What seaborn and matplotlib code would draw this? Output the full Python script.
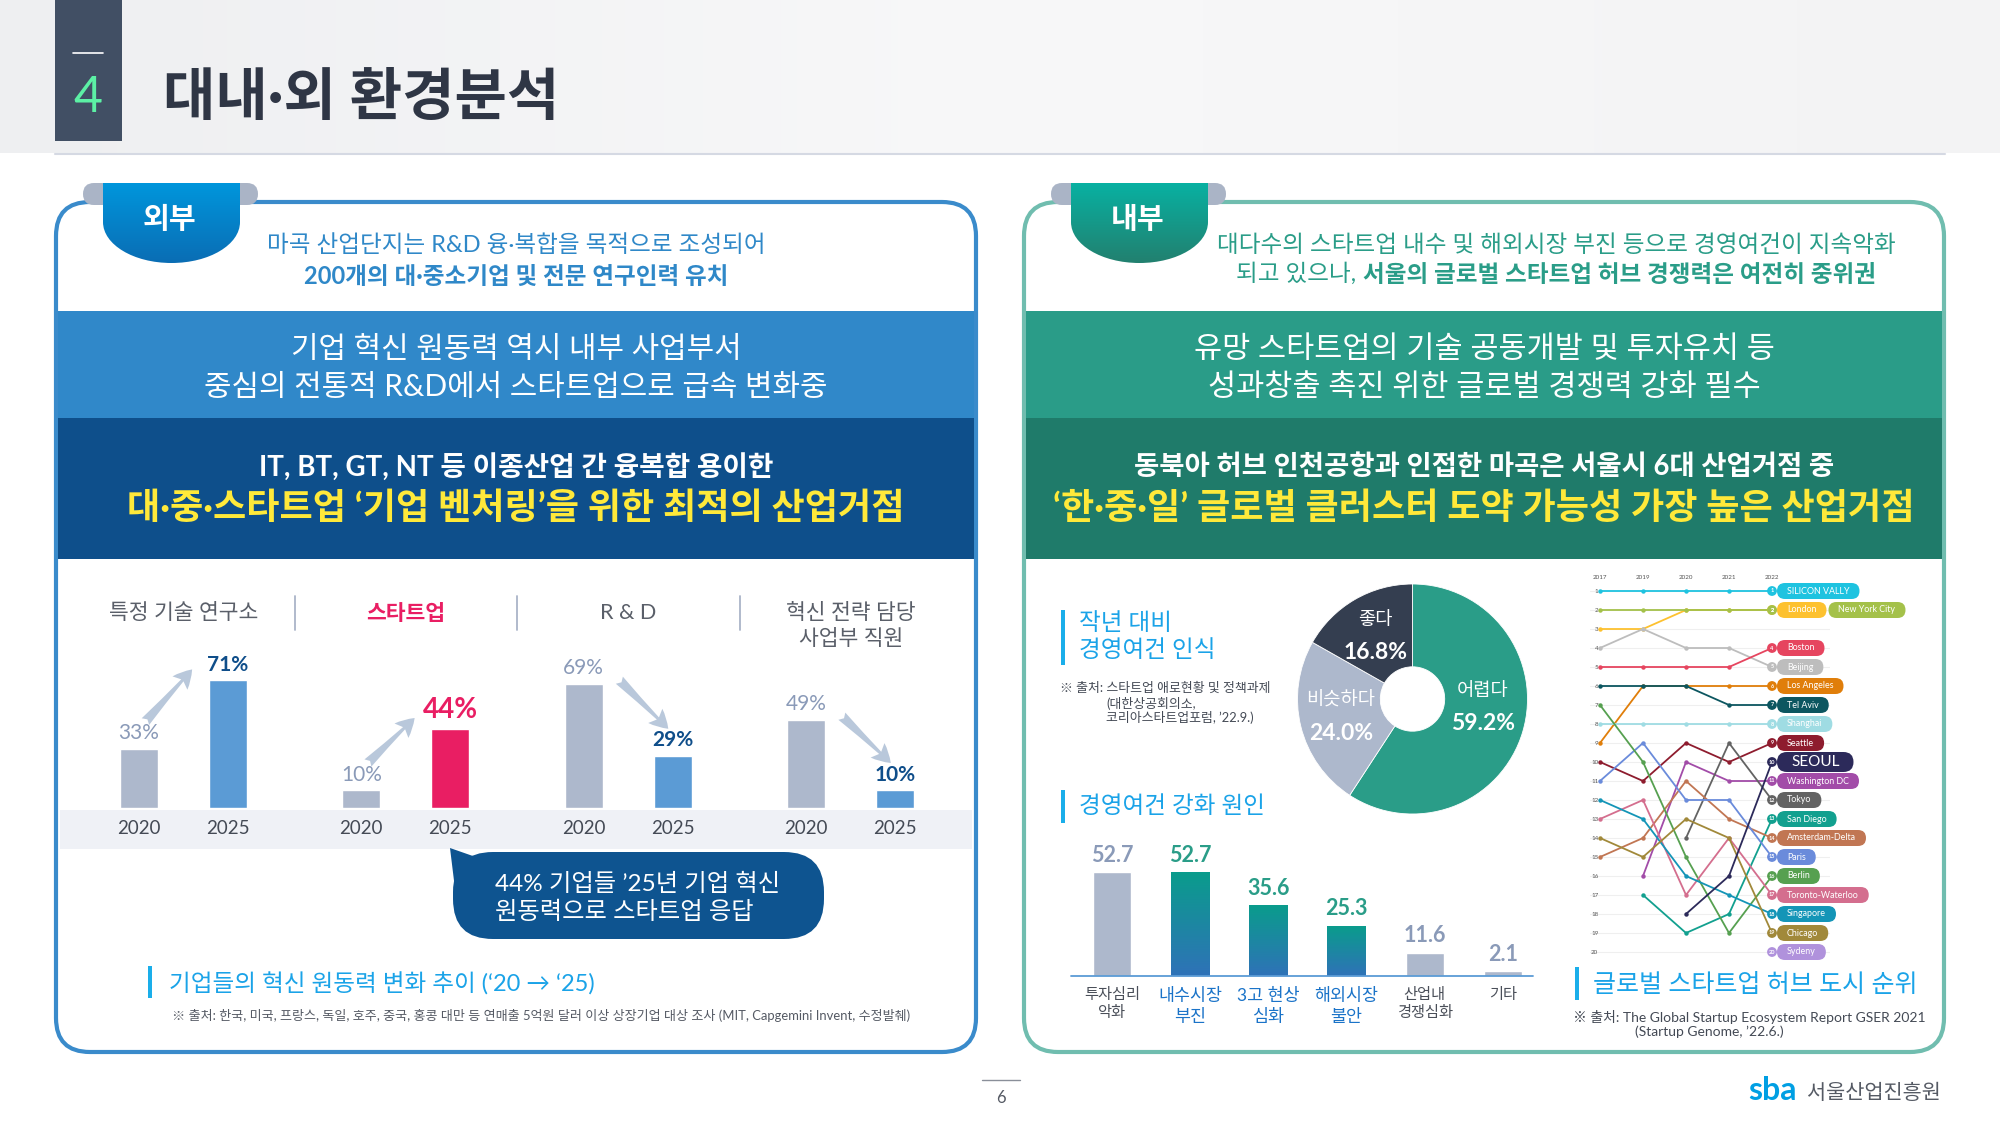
import numpy as np
import pandas as pd
import seaborn as sns
import matplotlib.pyplot as plt
import matplotlib.colors as mcolors
from matplotlib.patches import FancyBboxPatch, Rectangle, Polygon, PathPatch
from matplotlib.path import Path

sns.set_theme(style="white")
plt.rcParams["font.family"] = ["Lato", "Noto Sans CJK KR", "DejaVu Sans"]
plt.rcParams["axes.unicode_minus"] = False

W, H = 2000, 1125

# ---------------- data ----------------
innov_groups = ["특정 기술 연구소", "스타트업", "R & D", "혁신 전략 담당\n사업부 직원"]
innov_2020 = [33, 10, 69, 49]
innov_2025 = [71, 44, 29, 10]

mood_labels = ["어렵다", "비슷하다", "좋다"]
mood_values = [59.2, 24.0, 16.8]

cause_labels = ["투자심리\n악화", "내수시장\n부진", "3고 현상\n심화", "해외시장\n불안", "산업내\n경쟁심화", "기타"]
cause_values = [52.7, 52.7, 35.6, 25.3, 11.6, 2.1]

rank_years = ["2017", "2019", "2020", "2021", "2022"]
rank_cities = ["SILICON VALLY", "London", "New York City", "Beijing", "Boston",
               "Los Angeles", "Tel Aviv", "Shanghai", "Seattle", "Washington DC",
               "Tokyo", "San Diego", "Amsterdam-Delta", "Paris", "Berlin",
               "Toronto-Waterloo", "Singapore", "Chicago", "Sydeny", "SEOUL"]
rank_values = [
    [1, 1, 1, 1, 1],
    [3, 3, 2, 2, 2],
    [2, 2, 2, 2, 2],
    [4, 3, 4, 4, 5],
    [5, 5, 5, 5, 4],
    [9, 6, 6, 6, 6],
    [6, 6, 6, 7, 7],
    [8, 8, 8, 8, 8],
    [10, 11, 9, 10, 9],
    [None, 16, 10, 11, 11],
    [None, None, 14, 9, 12],
    [None, 17, 19, 18, 13],
    [15, 14, 11, 13, 14],
    [11, 9, 12, 12, 15],
    [7, 10, 15, 19, 16],
    [13, 12, 17, 14, 17],
    [12, 13, 16, 17, 18],
    [14, 15, 13, 14, 19],
    [None, None, None, None, 20],
    [None, None, 18, 16, 10],
]
rank_colors = ["#1ec3e0", "#fdc12f", "#a4c14a", "#bdbdbd", "#e6455f",
               "#e07e0a", "#0c5660", "#9fdce3", "#8e1c2e", "#a24ca8",
               "#636363", "#12a08f", "#c17653", "#6a8bdb", "#56a050",
               "#d46e8e", "#1495b7", "#a1893a", "#b092dc", "#2c2a5a"]

# ---------------- helpers ----------------
fig = plt.figure(figsize=(20, 11.25), dpi=100)
fig.patch.set_facecolor("white")
bg = fig.add_axes([0, 0, 1, 1])
bg.set_xlim(0, W)
bg.set_ylim(H, 0)
bg.axis("off")


def px_axes(x0, y0, x1, y1):
    a = fig.add_axes([x0 / W, 1 - y1 / H, (x1 - x0) / W, (y1 - y0) / H])
    a.set_facecolor("none")
    return a


def gradient_fill(ax, patch, top, bottom, extent, z):
    patch.set_facecolor("none")
    patch.set_edgecolor("none")
    ax.add_patch(patch)
    cmap = mcolors.LinearSegmentedColormap.from_list("g", [top, bottom])
    im = ax.imshow(np.linspace(0, 1, 256).reshape(-1, 1), cmap=cmap, extent=extent,
                   aspect="auto", zorder=z, interpolation="bicubic")
    im.set_clip_path(patch)


def tab_path(x0, x1, y0, ym, y1):
    cx, rx, ry, k = (x0 + x1) / 2, (x1 - x0) / 2, y1 - ym, 0.5523
    verts = [(x0, y0), (x1, y0), (x1, ym),
             (x1, ym + k * ry), (cx + k * rx, y1), (cx, y1),
             (cx - k * rx, y1), (x0, ym + k * ry), (x0, ym), (x0, y0)]
    codes = [Path.MOVETO, Path.LINETO, Path.LINETO,
             Path.CURVE4, Path.CURVE4, Path.CURVE4,
             Path.CURVE4, Path.CURVE4, Path.CURVE4, Path.CLOSEPOLY]
    return Path(verts, codes)


# ---------------- header ----------------
hdr = np.linspace(0, 1, 256).reshape(1, -1)
bg.imshow(hdr, cmap=mcolors.LinearSegmentedColormap.from_list("h", ["#eeeff1", "#f8f8f9", "#f3f3f4"]),
          extent=(0, W, 153, 0), aspect="auto", zorder=0)
bg.plot([55, 1945], [154, 154], color="#d5d9e3", lw=1.5, zorder=1)
bg.add_patch(Rectangle((55, 0), 67, 141, fc="#414f64", ec="none", zorder=2))
bg.plot([73, 103], [53, 53], color="white", lw=1.2, zorder=3)
bg.text(88, 98, "4", color="#5cf0a5", fontsize=36, fontweight="normal", ha="center", va="center", zorder=3)
bg.text(163, 98, "대내·외 환경분석", color="#2f3645", fontsize=41, fontweight="bold",
        ha="left", va="center", zorder=3)

# ---------------- panels ----------------
panels = [(56, "#3a8bcb", "#3088c9", "#0e4f8b", "외부", ("#0096dc", "#0a6db4")),
          (1024, "#70bdaf", "#2a9c88", "#1f7b6a", "내부", ("#08b1a2", "#22806f"))]
for x0, border, band1, band2, tab_txt, tab_grad in panels:
    bg.add_patch(FancyBboxPatch((x0, 202), 920, 850, boxstyle="round,pad=0,rounding_size=34",
                                fc="white", ec=border, lw=3, zorder=2))
    bg.add_patch(Rectangle((x0 + 2, 311), 916, 107, fc=band1, ec="none", zorder=3))
    bg.add_patch(Rectangle((x0 + 2, 418), 916, 141, fc=band2, ec="none", zorder=3))
    # ribbon tab
    tx0 = x0 + 47
    bg.add_patch(FancyBboxPatch((tx0 - 20, 183), 30, 22, boxstyle="round,pad=0,rounding_size=11",
                                fc="#aab4c6", ec="none", zorder=3))
    bg.add_patch(FancyBboxPatch((tx0 + 125, 183), 30, 22, boxstyle="round,pad=0,rounding_size=11",
                                fc="#aab4c6", ec="none", zorder=3))
    tp = PathPatch(tab_path(tx0, tx0 + 137, 183, 222, 263), transform=bg.transData)
    gradient_fill(bg, tp, tab_grad[0], tab_grad[1], (tx0, tx0 + 137, 263, 183), 4)
    bg.text(tx0 + 67, 219, tab_txt, color="white", fontsize=21, fontweight="bold",
            ha="center", va="center", zorder=5)

# left texts
bg.text(516, 245, "마곡 산업단지는 R&D 융·복합을 목적으로 조성되어", color="#2f88c8",
        fontsize=17, ha="center", va="center", zorder=5)
bg.text(516, 276, "200개의 대·중소기업 및 전문 연구인력 유치", color="#2f88c8",
        fontsize=17, fontweight="bold", ha="center", va="center", zorder=5)
bg.text(516, 349, "기업 혁신 원동력 역시 내부 사업부서", color="white", fontsize=21.5,
        ha="center", va="center", zorder=5)
bg.text(516, 387, "중심의 전통적 R&D에서 스타트업으로 급속 변화중", color="white", fontsize=21.5,
        ha="center", va="center", zorder=5)
bg.text(516, 467, "IT, BT, GT, NT 등 이종산업 간 융복합 용이한", color="white", fontsize=20,
        fontweight="bold", ha="center", va="center", zorder=5)
bg.text(516, 508, "대·중·스타트업 ‘기업 벤처링’을 위한 최적의 산업거점", color="#ffe93a",
        fontsize=26, fontweight="bold", ha="center", va="center", zorder=5)

# right texts
bg.text(1556, 245, "대다수의 스타트업 내수 및 해외시장 부진 등으로 경영여건이 지속악화", color="#2a9d88",
        fontsize=17, ha="center", va="center", zorder=5)
renderer = fig.canvas.get_renderer()
t_a = bg.text(0, 274, "되고 있으나, ", color="#2a9d88", fontsize=17, ha="left", va="center", zorder=5)
t_b = bg.text(0, 274, "서울의 글로벌 스타트업 허브 경쟁력은 여전히 중위권", color="#2a9d88",
              fontsize=17, fontweight="bold", ha="left", va="center", zorder=5)
wa = t_a.get_window_extent(renderer).width
wb = t_b.get_window_extent(renderer).width
start = 1556 - (wa + wb) / 2
t_a.set_x(start)
t_b.set_x(start + wa)
bg.text(1484, 349, "유망 스타트업의 기술 공동개발 및 투자유치 등", color="white", fontsize=22,
        ha="center", va="center", zorder=5)
bg.text(1484, 387, "성과창출 촉진 위한 글로벌 경쟁력 강화 필수", color="white", fontsize=22,
        ha="center", va="center", zorder=5)
bg.text(1484, 467, "동북아 허브 인천공항과 인접한 마곡은 서울시 6대 산업거점 중", color="white",
        fontsize=19.8, fontweight="bold", ha="center", va="center", zorder=5)
bg.text(1484, 508, "‘한·중·일’ 글로벌 클러스터 도약 가능성 가장 높은 산업거점", color="#ffe93a",
        fontsize=26, fontweight="bold", ha="center", va="center", zorder=5)

# ---------------- left: innovation bars ----------------
bg.add_patch(Rectangle((60, 810), 912, 39, fc="#eff1f6", ec="none", zorder=3))

innov_df = pd.DataFrame({"group": innov_groups * 2,
                         "year": ["2020"] * 4 + ["2025"] * 4,
                         "value": innov_2020 + innov_2025})
ax1 = px_axes(72, 628, 962, 808)
sns.barplot(data=innov_df, x="group", y="value", hue="year",
            palette={"2020": "#adb8cc", "2025": "#5b9bd5"}, width=0.8, gap=0.57,
            saturation=1, legend=False, ax=ax1)
for p in ax1.patches:
    if abs(p.get_x() + p.get_width() / 2 - 1.2) < 0.05:
        p.set_facecolor("#e91e63")
ax1.set_xlim(-0.5, 3.5)
ax1.set_ylim(0, 100)
ax1.axis("off")

for i, g in enumerate(innov_groups):
    x0, x1 = i - 0.2, i + 0.2
    v0, v1 = innov_2020[i], innov_2025[i]
    is_su = g == "스타트업"
    ax1.text(i, 114, g, ha="center", va="top", fontsize=15.5, linespacing=1.4,
             color="#e91e63" if is_su else "#5a5f69",
             fontweight="bold" if is_su else "normal", clip_on=False)
    if i < 3:
        ax1.plot([i + 0.5, i + 0.5], [99, 118], color="#aab4c8", lw=1.3, clip_on=False)
    ax1.text(x0, v0 + 3, f"{v0}%", ha="center", va="bottom", fontsize=15,
             color="#8a9ab8", clip_on=False)
    ax1.text(x1, v1 + 3, f"{v1}%", ha="center", va="bottom",
             fontsize=20 if is_su else 15, fontweight="bold",
             color="#e91e63" if is_su else "#0f4e8a", clip_on=False)
    ax1.text(x0, -11.6, "2020", ha="center", va="center", fontsize=13.5, color="#444a55", clip_on=False)
    ax1.text(x1, -11.6, "2025", ha="center", va="center", fontsize=13.5, color="#444a55", clip_on=False)
    if v1 > v0:
        s, e = (x0 + 0.03, v0 + 15), (x1 - 0.16, v1 + 6)
    else:
        s, e = (x0 + 0.16, v0 + 2), (x1 - 0.02, v1 + 15)
    ax1.annotate("", xy=e, xytext=s, annotation_clip=False,
                 arrowprops=dict(arrowstyle="fancy,head_length=0.55,head_width=0.6,tail_width=0.3",
                                 fc="#b9c8db", ec="none", shrinkA=0, shrinkB=0, mutation_scale=24))

# callout bubble
bg.add_patch(Polygon([(450, 848), (490, 862), (456, 897)], closed=True, fc="#0e5490", ec="none", zorder=4))
bg.add_patch(FancyBboxPatch((453, 852), 371, 87, boxstyle="round,pad=0,rounding_size=40",
                            fc="#0e5490", ec="none", zorder=4))
bg.text(495, 884, "44% 기업들 ’25년 기업 혁신", color="white", fontsize=17.5, ha="left", va="center", zorder=5)
bg.text(495, 912, "원동력으로 스타트업 응답", color="white", fontsize=17.5, ha="left", va="center", zorder=5)

# captions left
bg.add_patch(Rectangle((148, 966), 4, 32, fc="#1aaeea", ec="none", zorder=4))
bg.text(169, 984, "기업들의 혁신 원동력 변화 추이 (‘20 → ‘25)", color="#1aa3e8", fontsize=17,
        ha="left", va="center", zorder=5)
bg.text(172, 1015, "※ 출처: 한국, 미국, 프랑스, 독일, 호주, 중국, 홍콩 대만 등 연매출 5억원 달러 이상 상장기업 대상 조사 "
                   "(MIT, Capgemini Invent, 수정발췌)", color="#555a64", fontsize=9.4,
        ha="left", va="center", zorder=5)

# ---------------- right: pie ----------------
bg.add_patch(Rectangle((1061, 610), 4, 55, fc="#1aaeea", ec="none", zorder=4))
bg.text(1079, 623, "작년 대비", color="#1aa3e8", fontsize=17, ha="left", va="center", zorder=5)
bg.text(1079, 650, "경영여건 인식", color="#1aa3e8", fontsize=17, ha="left", va="center", zorder=5)
bg.text(1060, 688, "※ 출처: 스타트업 애로현황 및 정책과제", color="#444a55", fontsize=9.3,
        ha="left", va="center", zorder=5)
bg.text(1106, 703, "(대한상공회의소,", color="#444a55", fontsize=9.3, ha="left", va="center", zorder=5)
bg.text(1106, 717, "코리아스타트업포럼, ’22.9.)", color="#444a55", fontsize=9.3, ha="left", va="center", zorder=5)

ax3 = px_axes(1297.5, 584, 1527.5, 814)
wedges, _ = ax3.pie(mood_values, colors=["#2a9d88", "#adb8cc", "#343e50"], startangle=90,
                    counterclock=False, radius=1,
                    wedgeprops=dict(width=0.72, edgecolor="white", linewidth=0.6))
ax3.set_xlim(-1, 1)
ax3.set_ylim(-1, 1)
ax3.set_aspect("equal")
ax3.axis("off")
for w, lab, val in zip(wedges, mood_labels, mood_values):
    ang = np.deg2rad((w.theta1 + w.theta2) / 2)
    cx, cy = 0.64 * np.cos(ang), 0.64 * np.sin(ang)
    if lab == "어렵다":
        cy += 0.12
    ax3.text(cx, cy + 0.14, lab, color="white", fontsize=13.5, ha="center", va="center")
    ax3.text(cx, cy - 0.15, f"{val:.1f}%", color="white", fontsize=16.5, fontweight="bold",
             ha="center", va="center")

# ---------------- right: cause bars ----------------
bg.add_patch(Rectangle((1061, 790), 4, 33, fc="#1aaeea", ec="none", zorder=4))
bg.text(1079, 806, "경영여건 강화 원인", color="#1aa3e8", fontsize=17, ha="left", va="center", zorder=5)

ax2 = px_axes(1073, 857.5, 1542, 975.5)
cause_colors = ["#adb8cc", "#1a9a8f", "#1a9a8f", "#1a9a8f", "#adb8cc", "#adb8cc"]
sns.barplot(x=cause_labels, y=cause_values, hue=cause_labels, palette=cause_colors,
            width=0.49, saturation=1, legend=False, ax=ax2)
for p in list(ax2.patches):
    c = p.get_x() + p.get_width() / 2
    if 0.5 < c < 3.5:
        x0, w, h = p.get_x(), p.get_width(), p.get_height()
        clip = Rectangle((x0, 0), w, h)
        p.set_visible(False)
        gradient_fill(ax2, clip, "#0a9c8c", "#2f72b8", (x0, x0 + w, 0, h), 3)
ax2.set_xlim(-0.5, 5.5)
ax2.set_ylim(0, 60)
ax2.plot([-0.53, 5.38], [0, 0], color="#5b9bd5", lw=1.3, clip_on=False, zorder=4)
for i, v in enumerate(cause_values):
    teal = 1 <= i <= 3
    ax2.text(i, v + 3.2, f"{v}", ha="center", va="bottom", fontsize=15.5, fontweight="bold",
             color="#2a9d88" if teal else "#8a9ab8", clip_on=False)
ax2.set_xticks(range(len(cause_labels)))
ax2.set_xticklabels(cause_labels)
for i, lab in enumerate(ax2.get_xticklabels()):
    teal = 1 <= i <= 3
    lab.set_color("#1a73c8" if teal else "#4a4f59")
    lab.set_fontsize(12.5 if teal else 11)
    lab.set_linespacing(1.35)
ax2.tick_params(axis="x", length=0, pad=9)
ax2.set_yticks([])
ax2.set_xlabel("")
ax2.set_ylabel("")
sns.despine(ax=ax2, left=True, bottom=True)

# ---------------- right: bump chart ----------------
rows = []
for city, ranks in zip(rank_cities, rank_values):
    for xi, r in enumerate(ranks):
        if r is not None:
            rows.append({"city": city, "xi": xi, "rank": r})
rank_df = pd.DataFrame(rows)
palette = dict(zip(rank_cities, rank_colors))

ax4 = px_axes(1590, 581.5, 1830, 961.5)
sns.lineplot(data=rank_df, x="xi", y="rank", hue="city", hue_order=rank_cities, palette=palette,
             marker="o", markersize=3.2, markeredgewidth=0, linewidth=1.3, estimator=None,
             sort=False, legend=False, ax=ax4)
last = rank_df[rank_df["xi"] == 4]
ax4.scatter(last["xi"], last["rank"], s=50, c=[palette[c] for c in last["city"]], zorder=6, linewidths=0)
for _, r in last.iterrows():
    ax4.text(4, r["rank"], str(r["rank"]), color="white", fontsize=4, fontweight="bold",
             ha="center", va="center", zorder=7)
ax4.set_xlim(-0.2326, 5.349)
ax4.set_ylim(20.5, 0.5)
ax4.set_yticks(range(1, 21))
ax4.set_yticklabels([str(i) for i in range(1, 21)])
ax4.set_xticks(range(len(rank_years)))
ax4.set_xticklabels(rank_years)
ax4.xaxis.tick_top()
ax4.tick_params(axis="x", labelsize=4.5, length=0, pad=1, labelcolor="#555")
ax4.tick_params(axis="y", labelsize=4.5, length=0, pad=-6, labelcolor="#555")
ax4.grid(axis="y", color="#efefef", lw=0.8)
ax4.grid(axis="x", visible=False)
ax4.set_xlabel("")
ax4.set_ylabel("")
for s in ax4.spines.values():
    s.set_visible(False)

# name pills after the 2022 markers, on an overlay so grid lines stay underneath
ov = fig.add_axes([0, 0, 1, 1])
ov.set_xlim(0, W)
ov.set_ylim(H, 0)
ov.axis("off")
ov.patch.set_alpha(0)
right_edge = {}
for _, r in last.iterrows():
    city, rk = r["city"], r["rank"]
    dx, dy = ax4.transData.transform((4, rk))
    yc = H - dy
    x_left = right_edge.get(rk, dx + 5) + (2 if rk in right_edge else 0)
    big = city == "SEOUL"
    fs, hh, padx = (11, 20, 14) if big else (6.4, 16, 10)
    t = ov.text(0, yc, city, color="white", fontsize=fs, ha="center", va="center", zorder=8)
    tw = t.get_window_extent(renderer).width
    pw = tw + 2 * padx
    t.set_x(x_left + pw / 2)
    ov.add_patch(FancyBboxPatch((x_left, yc - hh / 2), pw, hh,
                                boxstyle=f"round,pad=0,rounding_size={hh / 2}",
                                fc=palette[city], ec="none", zorder=7))
    right_edge[rk] = x_left + pw

# captions right
bg.add_patch(Rectangle((1575, 967), 4, 33, fc="#1aaeea", ec="none", zorder=4))
bg.text(1593, 984, "글로벌 스타트업 허브 도시 순위", color="#1aa3e8", fontsize=18,
        ha="left", va="center", zorder=5)
bg.text(1573, 1017, "※ 출처: The Global Startup Ecosystem Report GSER 2021", color="#444a55",
        fontsize=10, ha="left", va="center", zorder=5)
bg.text(1635, 1032, "(Startup Genome, ’22.6.)", color="#444a55", fontsize=10,
        ha="left", va="center", zorder=5)

# ---------------- footer ----------------
bg.plot([982, 1020], [1080, 1080], color="#8a8f99", lw=1)
bg.text(1001, 1098, "6", color="#555a64", fontsize=12, ha="center", va="center")
bg.text(1748, 1090, "sba", color="#009fe3", fontsize=23, fontweight="bold",
        ha="left", va="center")
bg.text(1807, 1093, "서울산업진흥원", color="#555a64", fontsize=15, ha="left", va="center")

bg.set_xlim(0, W)
bg.set_ylim(H, 0)
fig.savefig("out.png", dpi=100)
